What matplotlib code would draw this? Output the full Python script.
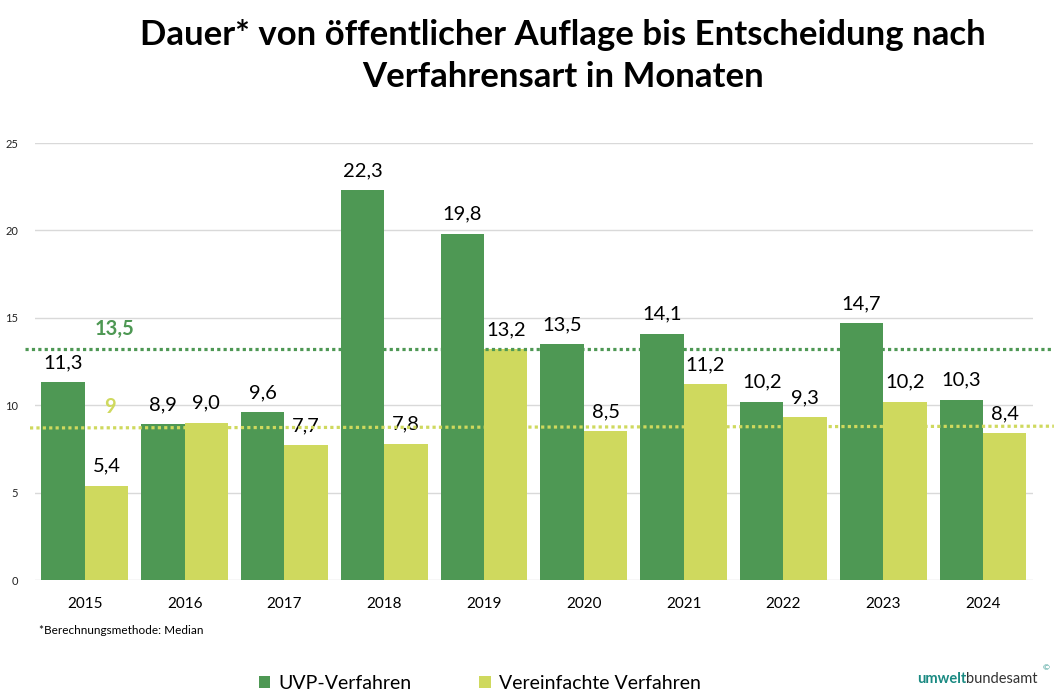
import numpy as np
import matplotlib.pyplot as plt

years = ['2015', '2016', '2017', '2018', '2019', '2020', '2021', '2022', '2023', '2024']
uvp = [11.3, 8.9, 9.6, 22.3, 19.8, 13.5, 14.1, 10.2, 14.7, 10.3]
vereinfacht = [5.4, 9.0, 7.7, 7.8, 13.2, 8.5, 11.2, 9.3, 10.2, 8.4]

# average lines as drawn in the original (left end, right end) and their labels
avg_uvp_line = [13.2, 13.2]
avg_uvp_label = '13,5'
avg_ver_line = [8.7, 8.8]
avg_ver_label = '9'

green = '#4e9854'
yellow = '#cfd95e'

plt.rcParams['font.family'] = ['Lato', 'DejaVu Sans']

fig = plt.figure(figsize=(10.54, 7.0), dpi=100)
ax = fig.add_axes([0.0332, 0.1714, 0.9468, 0.6243])

x = np.arange(len(years))
w = 0.435
b1 = ax.bar(x - w / 2, uvp, w, color=green, label='UVP-Verfahren', zorder=2)
b2 = ax.bar(x + w / 2, vereinfacht, w, color=yellow, label='Vereinfachte Verfahren', zorder=2)

for bars, vals in ((b1, uvp), (b2, vereinfacht)):
    for r, v in zip(bars, vals):
        ax.annotate(f'{v:.1f}'.replace('.', ','), (r.get_x() + r.get_width() / 2, v),
                    xytext=(0, 8), textcoords='offset points',
                    ha='center', va='bottom', fontsize=14.5, color='black')

ax.set_xlim(-0.5, len(years) - 0.5)
ax.set_ylim(0, 25)
ax.set_yticks([0, 5, 10, 15, 20, 25])
ax.set_xticks(x)
ax.set_xticklabels(years)
ax.tick_params(axis='y', length=0, pad=12, labelsize=8, colors='#222222')
ax.tick_params(axis='x', length=0, pad=12, labelsize=11, colors='black')
ax.grid(axis='y', color='#d9d9d9', linewidth=1, zorder=0)
for s in ax.spines.values():
    s.set_visible(False)

# dotted average lines, running past the plot area
ax.plot([-0.6, 9.71], avg_uvp_line, color=green, linestyle=(0, (1, 1)),
        linewidth=2.3, clip_on=False, zorder=3)
ax.plot([-0.55, 9.71], avg_ver_line, color=yellow, linestyle=(0, (1, 1)),
        linewidth=2.3, clip_on=False, zorder=3)
ax.text(0.3, avg_uvp_line[0] + 0.6, avg_uvp_label, color=green, fontsize=14.5,
        fontweight='bold', ha='center', va='bottom')
ax.text(0.25, avg_ver_line[0] + 0.6, avg_ver_label, color=yellow, fontsize=14.5,
        fontweight='bold', ha='center', va='bottom')

fig.text(0.534, 0.950, 'Dauer* von öffentlicher Auflage bis Entscheidung nach',
         ha='center', va='center', fontsize=25, fontweight='bold')
fig.text(0.534, 0.890, 'Verfahrensart in Monaten',
         ha='center', va='center', fontsize=25, fontweight='bold')

fig.text(0.037, 0.100, '*Berechnungsmethode: Median', fontsize=8.5, va='center')

fig.legend(handles=[b1, b2], loc='center', bbox_to_anchor=(0.455, 0.024), ncol=2,
           frameon=False, fontsize=14, handlelength=0.6, handleheight=0.6,
           handletextpad=0.4, columnspacing=3.5)

fig.text(0.9165, 0.030, 'umwelt', color='#1a8a82', fontsize=10.5, fontweight='bold',
         va='center', ha='right')
fig.text(0.9165, 0.030, 'bundesamt', color='#333333', fontsize=10.5, va='center', ha='left')
fig.text(0.9925, 0.046, '©', color='#1a8a82', fontsize=6, va='center', ha='center')

fig.savefig('out.png', dpi=100)
